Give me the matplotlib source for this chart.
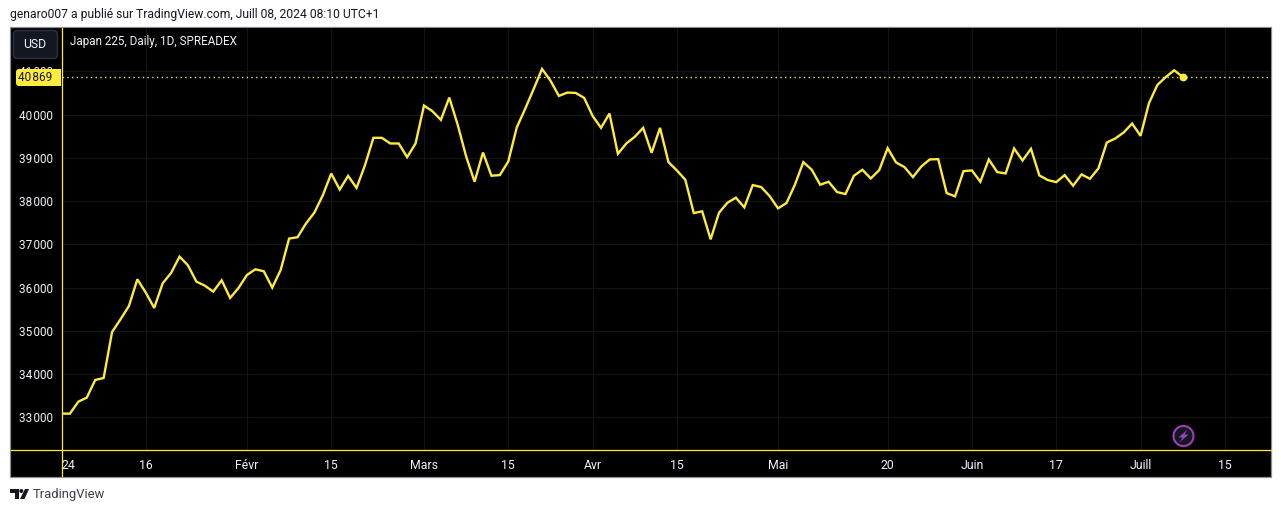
import matplotlib
matplotlib.use('Agg')
import matplotlib.pyplot as plt
from matplotlib.patches import Rectangle, FancyBboxPatch, Circle, Polygon, PathPatch
from matplotlib.path import Path

# Japan 225 daily closes
closes = [
    33085, 33085, 33362, 33455, 33863, 33909, 34973, 35266, 35574, 36191,
    35882, 35528, 36098, 36337, 36715, 36514, 36137, 36044, 35906, 36168,
    35759, 35990, 36291, 36422, 36376, 35998, 36407, 37133, 37164, 37480,
    37734, 38135, 38636, 38266, 38582, 38304, 38829, 39462, 39462, 39331,
    39331, 39015, 39331, 40208, 40077, 39877, 40392, 39762, 39031, 38446,
    39123, 38585, 38600, 38915, 39700, 40131, 40585, 41054, 40785, 40431,
    40508, 40500, 40385, 39969, 39692, 40023, 39092, 39331, 39485, 39692,
    39115, 39692, 38900, 38708, 38492, 37723, 37762, 37115, 37731, 37962,
    38077, 37854, 38369, 38323, 38115, 37831, 37954, 38377, 38900, 38723,
    38377, 38446, 38208, 38162, 38585, 38723, 38523, 38715, 39223, 38892,
    38785, 38554, 38800, 38962, 38969, 38185, 38108, 38692, 38708, 38446,
    38962, 38669, 38638, 39215, 38938, 39208, 38592, 38485, 38438, 38600,
    38354, 38615, 38515, 38754, 39354, 39446, 39585, 39792, 39508, 40262,
    40685, 40869, 41023, 40869,
]
last_price = 40869
price_ticks = [33000, 34000, 35000, 36000, 37000, 38000, 39000, 40000, 41000]
date_pos = [0, 10, 22, 32, 43, 53, 63, 73, 85, 98, 108, 118, 128, 138]
date_labels = ['24', '16', 'Févr', '15', 'Mars', '15', 'Avr', '15', 'Mai', '20', 'Juin', '17', 'Juill', '15']

W, H = 1281, 512
YELLOW = '#FFEB3B'
GRID = '#14150b'
TEXT = '#F0F3FA'
plt.rcParams['font.family'] = ['Roboto', 'DejaVu Sans']

fig = plt.figure(figsize=(W / 100, H / 100), dpi=100, facecolor='white')

# pixel layer underneath: the black chart box
bg = fig.add_axes([0, 0, 1, 1], zorder=0)
bg.set_xlim(0, W)
bg.set_ylim(H, 0)
bg.axis('off')
bg.add_patch(Rectangle((10, 27), 1261, 449.5, fc='black', ec='#8c8f98', lw=0.9))

# main price pane
left, right, top, bottom = 61.5, 1270.5, 27.5, 449.5
ax = fig.add_axes([left / W, 1 - bottom / H, (right - left) / W, (bottom - top) / H], zorder=1)
ax.set_facecolor('black')
ax.set_xlim(0, (right - left) / 8.43)
ax.set_ylim(33000 - (bottom - 417.3) / 43.25 * 1000, 33000 + (417.3 - top) / 43.25 * 1000)
ax.plot(range(len(closes)), closes, color=YELLOW, lw=1.7, solid_joinstyle='miter', zorder=3)
ax.plot(len(closes) - 1, closes[-1], 'o', color=YELLOW, ms=4.6, zorder=4)
ax.axhline(last_price, color=YELLOW, lw=1.0, ls=(0, (1, 2.4)), zorder=2)

ax.set_yticks(price_ticks)
ax.set_yticklabels([f'{p // 1000}\u200a{p % 1000:03d}' for p in price_ticks], fontsize=8.5, color=TEXT)
ax.set_xticks(date_pos)
ax.set_xticklabels(date_labels, fontsize=8.8, color=TEXT)
ax.tick_params(axis='both', length=0)
ax.tick_params(axis='y', pad=6)
ax.tick_params(axis='x', pad=6.5)
ax.get_xticklabels()[0].set_ha('left')
ax.grid(color=GRID, lw=0.8)
ax.set_axisbelow(True)
for sp in ax.spines.values():
    sp.set_visible(False)

# pixel layer on top: separators, button, price tag, logo and texts
ov = fig.add_axes([0, 0, 1, 1], zorder=2)
ov.set_xlim(0, W)
ov.set_ylim(H, 0)
ov.axis('off')
ov.patch.set_alpha(0)

ov.plot([61.5, 61.5], [27.5, 476], color=YELLOW, lw=0.9)
ov.plot([10.5, 1270.5], [449.5, 449.5], color=YELLOW, lw=0.9)

ov.add_patch(FancyBboxPatch((15, 32), 41, 25, boxstyle='round,pad=1.5,rounding_size=4',
                            fc='#131722', ec='#2f3340', lw=1))
ov.text(34.5, 44, 'USD', color=TEXT, fontsize=8.8, ha='center', va='center')

tag = Path([(61, 69), (19, 69), (16, 69), (16, 72), (16, 83), (16, 86), (19, 86), (61, 86), (61, 69)],
           [Path.MOVETO, Path.LINETO, Path.CURVE3, Path.CURVE3, Path.LINETO, Path.CURVE3, Path.CURVE3,
            Path.LINETO, Path.CLOSEPOLY])
ov.add_patch(PathPatch(tag, fc=YELLOW, ec='none'))
ov.text(52, 77.5, f'{last_price // 1000}\u200a{last_price % 1000:03d}', color='#131722',
        fontsize=8.5, ha='right', va='center')

ov.text(70, 41.5, 'Japan 225, Daily, 1D, SPREADEX', color=TEXT, fontsize=8.4, ha='left', va='center')
ov.text(10, 14.5, 'genaro007 a publié sur TradingView.com, Juill 08, 2024 08:10 UTC+1',
        color='#131722', fontsize=8.7, ha='left', va='center')
ov.text(33, 494.5, 'TradingView', color='#3a3e49', fontsize=9.4, ha='left', va='center')

# TradingView logo
ov.add_patch(Polygon([(10, 489), (19, 489), (19, 499), (14.5, 499), (14.5, 493), (10, 493)], fc='#131722', ec='none'))
ov.add_patch(Circle((21.3, 491), 2, fc='#131722', ec='none'))
ov.add_patch(Polygon([(25, 489), (29, 489), (24.5, 499), (20, 499)], fc='#131722', ec='none'))

# purple bolt badge
ov.add_patch(Circle((1183.5, 436), 10, fc='#131722', ec='#9c3fb8', lw=1.5))
ov.add_patch(Polygon([(1187.5, 429.5), (1178.5, 437.5), (1182.5, 437.5), (1179.5, 442.5), (1188.5, 434.5), (1184.5, 434.5)],
                     fc='#9c3fb8', ec='none'))

fig.savefig('out.png', dpi=100, facecolor='white')
